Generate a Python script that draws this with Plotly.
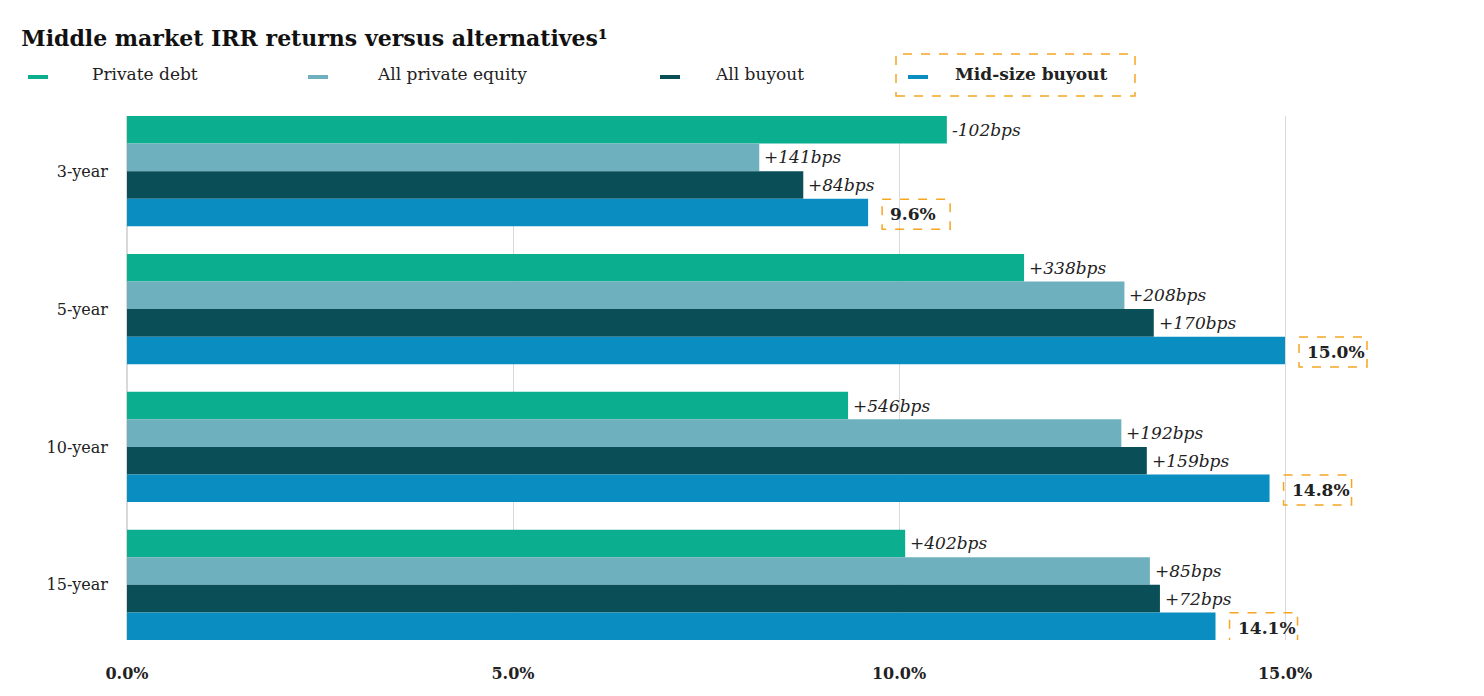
import plotly.graph_objects as go

horizons = ["3-year", "5-year", "10-year", "15-year"]
midsize = [9.6, 15.0, 14.8, 14.1]
debt_bps = [-102, 338, 546, 402]
pe_bps = [141, 208, 192, 85]
buyout_bps = [84, 170, 159, 72]

debt = [m - b / 100 for m, b in zip(midsize, debt_bps)]
pe = [m - b / 100 for m, b in zip(midsize, pe_bps)]
buyout = [m - b / 100 for m, b in zip(midsize, buyout_bps)]

names = ["Private debt", "All private equity", "All buyout", "Mid-size buyout"]
colors = ["#0BAF8F", "#6FB0BE", "#0A4E57", "#0A8EC2"]
FONT = "Georgia, 'DejaVu Serif', 'Liberation Serif', serif"
ORANGE = "#F5A623"

L, R, T, B = 119, 14, 108, 64
PW, PH = 1484 - L - R, 696 - T - B


def px(x):
    return (x - L) / PW


def py(y):
    return (696 - B - y) / PH


fig = go.Figure()
for name, vals, c in zip(names, [debt, pe, buyout, midsize], colors):
    fig.add_trace(go.Bar(y=horizons, x=vals, orientation="h", name=name,
                         marker=dict(color=c, line=dict(width=0)), showlegend=False))

# bps labels
offsets = [-0.3, -0.1, 0.1]
for vals, bps, off in zip([debt, pe, buyout], [debt_bps, pe_bps, buyout_bps], offsets):
    for h, v, b in zip(horizons, vals, bps):
        fig.add_annotation(x=v, y=h, yshift=-off * 138, xanchor="left", xshift=3,
                           text=f"<i>{'+' if b > 0 else ''}{b}bps</i>", showarrow=False,
                           font=dict(family=FONT, size=17, color="#222"))

# mid-size value boxes
for h, v in zip(horizons, midsize):
    fig.add_annotation(x=v, y=h, yshift=-43, xanchor="left", xshift=20,
                       text=f"<b>{v:.1f}%</b>", showarrow=False,
                       font=dict(family=FONT, size=17, color="#222"))
    fig.add_shape(type="rect", xref="x", yref="y", xsizemode="pixel", ysizemode="pixel",
                  xanchor=v, yanchor=h, x0=14, x1=82, y0=-28, y1=-58,
                  line=dict(color=ORANGE, width=1.5, dash="dash"))

# custom legend
legend_pos = [(20, 82), (300, 367), (652, 705), (900, 945)]
for (dx, tx), name, c in zip(legend_pos, names, colors):
    fig.add_shape(type="line", xref="paper", yref="paper", x0=px(dx), x1=px(dx + 20),
                  y0=py(69), y1=py(69), line=dict(color=c, width=4))
    txt = f"<b>{name}</b>" if name == "Mid-size buyout" else name
    fig.add_annotation(xref="paper", yref="paper", x=px(tx), y=py(66), xanchor="left", yanchor="middle",
                       text=txt, showarrow=False, font=dict(family=FONT, size=17, color="#222"))
fig.add_shape(type="rect", xref="paper", yref="paper", x0=px(888), x1=px(1127), y0=py(88), y1=py(46),
              line=dict(color=ORANGE, width=1.5, dash="dash"))

fig.update_layout(
    width=1484, height=696,
    margin=dict(l=L, r=R, t=T, b=B),
    barmode="group", bargap=0.2, bargroupgap=0,
    plot_bgcolor="white", paper_bgcolor="white",
    font=dict(family=FONT, color="#222"),
    title=dict(text="<b>Middle market IRR returns versus alternatives¹</b>",
               x=0.009, xanchor="left", y=0.968, font=dict(family=FONT, size=22, color="#111")),
    xaxis=dict(range=[0, 17.5], tickvals=[0, 5, 10, 15], ticktext=["<b>0.0%</b>", "<b>5.0%</b>", "<b>10.0%</b>", "<b>15.0%</b>"],
               showgrid=True, gridcolor="#d9d9d9", zeroline=True, zerolinecolor="#d9d9d9",
               tickfont=dict(family=FONT, size=16), ticklabelstandoff=22, automargin=False),
    yaxis=dict(range=[3.4, -0.4], tickfont=dict(family=FONT, size=16), ticks="",
               ticklabelstandoff=18, showgrid=False, automargin=False),
)
fig.write_html("out.html")
